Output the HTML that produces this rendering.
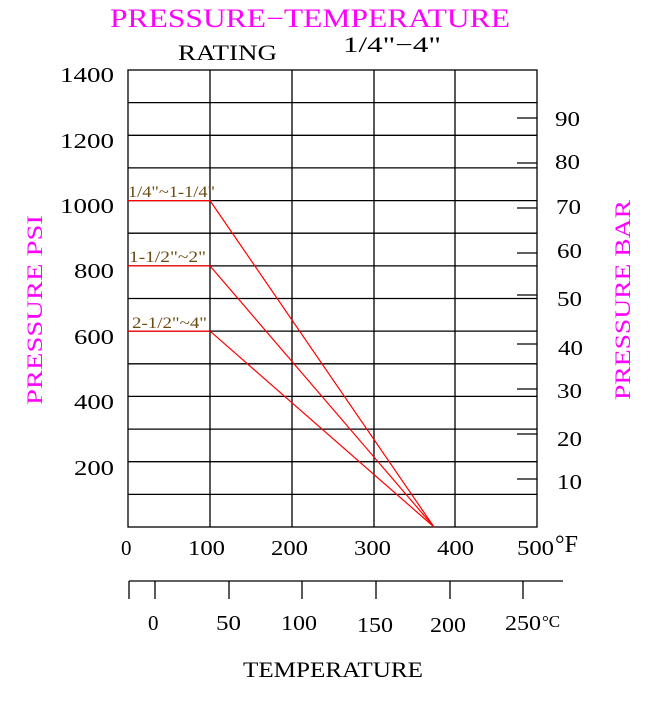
<!DOCTYPE html>
<html><head><style>body{margin:0;background:#fff}</style></head><body>
<svg width="649" height="697" xmlns="http://www.w3.org/2000/svg" font-family="Liberation Serif, serif">
<rect width="649" height="697" fill="#fff"/>
<text x="110" y="27" font-size="26" fill="#ff00ff" textLength="400" lengthAdjust="spacingAndGlyphs">PRESSURE−TEMPERATURE</text>
<text x="178" y="60" font-size="22" fill="#000" textLength="99" lengthAdjust="spacingAndGlyphs">RATING</text>
<text x="343" y="52" font-size="22" fill="#000" textLength="98" lengthAdjust="spacingAndGlyphs">1/4"−4"</text>
<g stroke="#000" stroke-width="1.3" fill="none">
<rect x="128" y="70" width="409" height="457"/>
<line x1="210" y1="70" x2="210" y2="527"/><line x1="292" y1="70" x2="292" y2="527"/>
<line x1="374" y1="70" x2="374" y2="527"/><line x1="455" y1="70" x2="455" y2="527"/>
<line x1="128" y1="102.6" x2="537" y2="102.6"/><line x1="128" y1="135.3" x2="537" y2="135.3"/>
<line x1="128" y1="167.9" x2="537" y2="167.9"/><line x1="128" y1="200.6" x2="537" y2="200.6"/>
<line x1="128" y1="233.2" x2="537" y2="233.2"/><line x1="128" y1="265.9" x2="537" y2="265.9"/>
<line x1="128" y1="298.5" x2="537" y2="298.5"/><line x1="128" y1="331.1" x2="537" y2="331.1"/>
<line x1="128" y1="363.8" x2="537" y2="363.8"/><line x1="128" y1="396.4" x2="537" y2="396.4"/>
<line x1="128" y1="429.1" x2="537" y2="429.1"/><line x1="128" y1="461.7" x2="537" y2="461.7"/>
<line x1="128" y1="494.4" x2="537" y2="494.4"/>
<line x1="517" y1="118" x2="537" y2="118"/><line x1="517" y1="163" x2="537" y2="163"/>
<line x1="517" y1="208" x2="537" y2="208"/><line x1="517" y1="253" x2="537" y2="253"/>
<line x1="517" y1="295" x2="537" y2="295"/><line x1="517" y1="344" x2="537" y2="344"/>
<line x1="517" y1="389" x2="537" y2="389"/><line x1="517" y1="434" x2="537" y2="434"/>
<line x1="517" y1="479" x2="537" y2="479"/>
<line x1="129" y1="581" x2="563" y2="581"/>
<line x1="129" y1="581" x2="129" y2="599"/><line x1="155" y1="581" x2="155" y2="599"/>
<line x1="229" y1="581" x2="229" y2="599"/><line x1="302" y1="581" x2="302" y2="599"/>
<line x1="376" y1="581" x2="376" y2="599"/><line x1="450" y1="581" x2="450" y2="599"/>
<line x1="523" y1="581" x2="523" y2="599"/>
</g>
<g stroke="#ff0000" stroke-width="1.2" fill="none">
<polyline points="128,200.6 210,200.6 434,527"/>
<polyline points="128,265.9 210,265.9 434,527"/>
<polyline points="128,331.1 210,331.1 434,527"/>
</g>
<g font-size="16" fill="#6b4a10">
<text x="128" y="197" textLength="87" lengthAdjust="spacingAndGlyphs">1/4"~1-1/4"</text>
<text x="129" y="262" textLength="77" lengthAdjust="spacingAndGlyphs">1-1/2"~2"</text>
<text x="132" y="328" textLength="75" lengthAdjust="spacingAndGlyphs">2-1/2"~4"</text>
</g>
<g font-size="21" fill="#000" text-anchor="end">
<text x="114" y="82" textLength="54" lengthAdjust="spacingAndGlyphs">1400</text><text x="114" y="148" textLength="54" lengthAdjust="spacingAndGlyphs">1200</text>
<text x="114" y="213" textLength="54" lengthAdjust="spacingAndGlyphs">1000</text><text x="114" y="278" textLength="40" lengthAdjust="spacingAndGlyphs">800</text>
<text x="114" y="344" textLength="40" lengthAdjust="spacingAndGlyphs">600</text><text x="114" y="409" textLength="40" lengthAdjust="spacingAndGlyphs">400</text>
<text x="114" y="475" textLength="40" lengthAdjust="spacingAndGlyphs">200</text>
</g>
<g font-size="21" fill="#000" text-anchor="start" lengthAdjust="spacingAndGlyphs">
<text x="555" y="126" textLength="25" lengthAdjust="spacingAndGlyphs">90</text><text x="555" y="169" textLength="25" lengthAdjust="spacingAndGlyphs">80</text>
<text x="556" y="214" textLength="25" lengthAdjust="spacingAndGlyphs">70</text><text x="557" y="258" textLength="25" lengthAdjust="spacingAndGlyphs">60</text>
<text x="557" y="306" textLength="25" lengthAdjust="spacingAndGlyphs">50</text><text x="558" y="355" textLength="25" lengthAdjust="spacingAndGlyphs">40</text>
<text x="557" y="398" textLength="25" lengthAdjust="spacingAndGlyphs">30</text><text x="557" y="446" textLength="25" lengthAdjust="spacingAndGlyphs">20</text>
<text x="557" y="489" textLength="25" lengthAdjust="spacingAndGlyphs">10</text>
</g>
<g font-size="21" fill="#000">
<text x="121" y="555">0</text><text x="188" y="555" textLength="37" lengthAdjust="spacingAndGlyphs">100</text>
<text x="271" y="555" textLength="37" lengthAdjust="spacingAndGlyphs">200</text><text x="354" y="555" textLength="37" lengthAdjust="spacingAndGlyphs">300</text>
<text x="437" y="555" textLength="37" lengthAdjust="spacingAndGlyphs">400</text><text x="517" y="555" textLength="37" lengthAdjust="spacingAndGlyphs">500</text>
<text x="148" y="630">0</text><text x="216" y="630" textLength="25" lengthAdjust="spacingAndGlyphs">50</text>
<text x="281" y="630" textLength="36" lengthAdjust="spacingAndGlyphs">100</text><text x="357" y="632" textLength="36" lengthAdjust="spacingAndGlyphs">150</text>
<text x="430" y="632" textLength="36" lengthAdjust="spacingAndGlyphs">200</text><text x="505" y="630" textLength="36" lengthAdjust="spacingAndGlyphs">250</text>
</g>
<text x="555" y="552" font-size="24" fill="#000">°F</text>
<text x="542" y="627" font-size="17" fill="#000">°C</text>
<text x="243" y="677" font-size="22" fill="#000" textLength="180" lengthAdjust="spacingAndGlyphs">TEMPERATURE</text>
<text transform="translate(42,405) rotate(-90)" font-size="22" fill="#ff00ff" textLength="190" lengthAdjust="spacingAndGlyphs">PRESSURE  PSI</text>
<text transform="translate(630,400) rotate(-90)" font-size="22" fill="#ff00ff" textLength="200" lengthAdjust="spacingAndGlyphs">PRESSURE  BAR</text>
</svg>
</body></html>
